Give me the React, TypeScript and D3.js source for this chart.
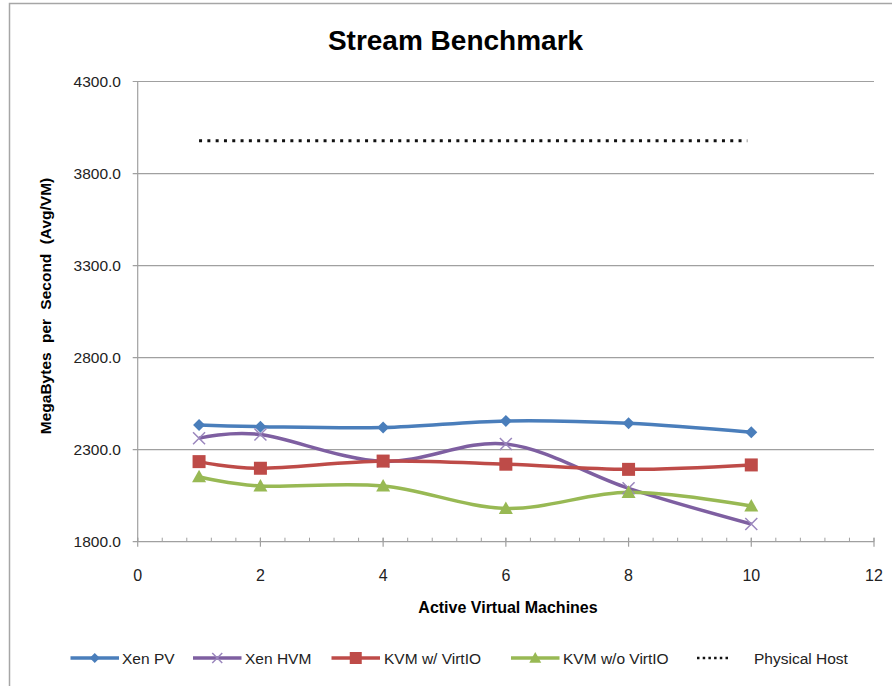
import React, { useEffect, useRef } from "react";
import * as d3 from "d3";

const xValues = [1, 2, 4, 6, 8, 10];
const xenPV = [2434, 2425, 2420, 2456, 2443, 2394];
const xenHVM = [2362, 2382, 2236, 2331, 2090, 1896];
const kvmVirtIO = [2235, 2199, 2238, 2221, 2193, 2217];
const kvmNoVirtIO = [2153, 2103, 2103, 1981, 2068, 1994];
const physicalHost = [3978, 3978];
const physicalX = [1, 10];
const seriesNames = ["Xen PV", "Xen HVM", "KVM w/ VirtIO", "KVM w/o VirtIO", "Physical Host"];
const yTicks = [1800, 2300, 2800, 3300, 3800, 4300];
const xTicks = [0, 2, 4, 6, 8, 10, 12];

const FONT = "'Liberation Sans', Arial, sans-serif";

export default function App() {
  const ref = useRef<SVGSVGElement>(null);
  useEffect(() => {
    const svg = d3.select(ref.current);
    svg.selectAll("*").remove();
    const x = d3.scaleLinear().domain([0, 12]).range([137.7, 874]);
    const y = d3.scaleLinear().domain([1800, 4300]).range([541.7, 81.5]);

    // chart border
    svg.append("rect").attr("x", 9.5).attr("y", 3.5).attr("width", 900).attr("height", 700)
      .attr("fill", "white").attr("stroke", "#a6a6a6").attr("stroke-width", 1.5);

    // title
    svg.append("text").attr("x", 455.5).attr("y", 50).attr("text-anchor", "middle")
      .attr("font-family", FONT).attr("font-weight", "bold").attr("font-size", 28)
      .attr("fill", "#000").text("Stream Benchmark");

    // gridlines
    const g = svg.append("g");
    yTicks.forEach((t) => {
      g.append("line").attr("x1", x(0) - 5).attr("x2", x(12)).attr("y1", y(t)).attr("y2", y(t))
        .attr("stroke", "#a0a0a0").attr("stroke-width", 1.2);
      g.append("text").attr("x", 121).attr("y", y(t) + 5.5).attr("text-anchor", "end")
        .attr("font-family", FONT).attr("font-size", 15.5).attr("fill", "#222").text(t.toFixed(1));
    });
    // y axis
    g.append("line").attr("x1", x(0)).attr("x2", x(0)).attr("y1", y(4300)).attr("y2", y(1800))
      .attr("stroke", "#a0a0a0").attr("stroke-width", 1.2);
    // x minor ticks
    d3.range(0, 12.01, 0.4).forEach((t) => {
      g.append("line").attr("x1", x(t)).attr("x2", x(t)).attr("y1", y(1800) - 4).attr("y2", y(1800))
        .attr("stroke", "#a0a0a0").attr("stroke-width", 1);
    });
    xTicks.forEach((t) => {
      g.append("line").attr("x1", x(t)).attr("x2", x(t)).attr("y1", y(1800) - 4).attr("y2", y(1800) + 5)
        .attr("stroke", "#a0a0a0").attr("stroke-width", 1.2);
      g.append("text").attr("x", x(t)).attr("y", 581).attr("text-anchor", "middle")
        .attr("font-family", FONT).attr("font-size", 16).attr("fill", "#222").text(String(t));
    });

    // axis titles
    svg.append("text").attr("x", 508).attr("y", 613).attr("text-anchor", "middle")
      .attr("font-family", FONT).attr("font-weight", "bold").attr("font-size", 16)
      .text("Active Virtual Machines");
    svg.append("text").attr("transform", "translate(51,306) rotate(-90)").attr("text-anchor", "middle")
      .attr("font-family", FONT).attr("font-weight", "bold").attr("font-size", 15.5).attr("word-spacing", 5)
      .text("MegaBytes per Second (Avg/VM)");

    const colors = ["#4a7ebb", "#7e5fa1", "#be4b48", "#98b954"];
    const data = [xenPV, xenHVM, kvmVirtIO, kvmNoVirtIO];
    const line = d3.line<[number, number]>().x((d) => x(d[0])).y((d) => y(d[1])).curve(d3.curveCardinal.tension(0));

    const drawMarker = (sel: any, i: number, cx: number, cy: number, s: number) => {
      const c = colors[i];
      if (i === 0) {
        sel.append("path").attr("d", `M${cx},${cy - s}L${cx + s},${cy}L${cx},${cy + s}L${cx - s},${cy}Z`).attr("fill", c);
      } else if (i === 1) {
        sel.append("path").attr("d", `M${cx - s},${cy - s}L${cx + s},${cy + s}M${cx - s},${cy + s}L${cx + s},${cy - s}`)
          .attr("stroke", "#9a86bd").attr("stroke-width", 1.5).attr("fill", "none");
      } else if (i === 2) {
        sel.append("rect").attr("x", cx - s).attr("y", cy - s).attr("width", 2 * s).attr("height", 2 * s).attr("fill", c);
      } else {
        sel.append("path").attr("d", `M${cx},${cy - s}L${cx + s},${cy + s * 0.8}L${cx - s},${cy + s * 0.8}Z`).attr("fill", c);
      }
    };

    data.forEach((vals, i) => {
      const pts: [number, number][] = xValues.map((xv, j) => [xv, vals[j]]);
      svg.append("path").attr("d", line(pts)).attr("fill", "none").attr("stroke", colors[i]).attr("stroke-width", 3.5);
    });
    data.forEach((vals, i) => {
      const mg = svg.append("g");
      const s = i === 0 ? 6 : i === 1 ? 6 : i === 2 ? 6.5 : 7;
      xValues.forEach((xv, j) => drawMarker(mg, i, x(xv), y(vals[j]), s));
    });

    // physical host dotted line
    svg.append("line").attr("x1", x(physicalX[0])).attr("x2", x(physicalX[1]) - 4).attr("y1", y(physicalHost[0])).attr("y2", y(physicalHost[1]))
      .attr("stroke", "#111").attr("stroke-width", 3).attr("stroke-dasharray", "3,5.3");

    // legend
    const legendLineX = [70.5, 193, 331.5, 511, 697];
    const legendTextX = [122, 245, 384, 563, 754];
    const legendY = 658;
    seriesNames.forEach((name, i) => {
      const lx = legendLineX[i];
      const lg = svg.append("g");
      if (i < 4) {
        lg.append("line").attr("x1", lx).attr("x2", lx + 48.5).attr("y1", legendY).attr("y2", legendY)
          .attr("stroke", colors[i]).attr("stroke-width", 3.5);
        drawMarker(lg, i, lx + 24.25, legendY, i === 2 ? 6 : i === 3 ? 6 : 5);
      } else {
        lg.append("line").attr("x1", lx).attr("x2", lx + 34).attr("y1", legendY).attr("y2", legendY)
          .attr("stroke", "#111").attr("stroke-width", 2.5).attr("stroke-dasharray", "2.5,3.2");
      }
      lg.append("text").attr("x", legendTextX[i]).attr("y", legendY + 5.5).attr("font-family", FONT)
        .attr("font-size", 15.5).attr("fill", "#222").text(name);
    });
  }, []);
  return (
    <svg ref={ref} width={892} height={686} style={{ position: "absolute", left: 0, top: 0, background: "white" }} />
  );
}
